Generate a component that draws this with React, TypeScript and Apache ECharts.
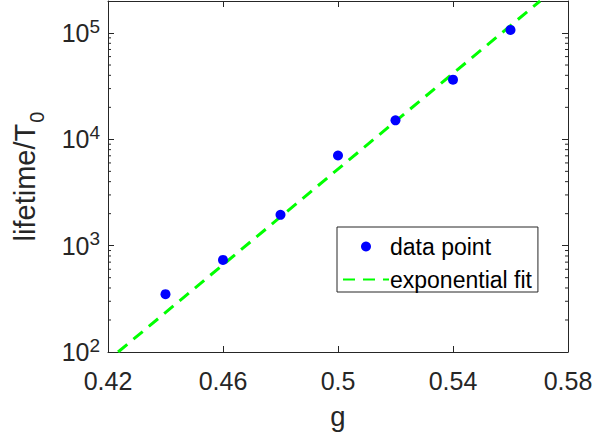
import React, { useEffect, useRef } from "react";
import * as echarts from "echarts";

const gValues = [0.44, 0.46, 0.48, 0.5, 0.52, 0.54, 0.56];
const lifetimeValues = [350, 735, 1950, 7050, 15100, 36400, 107000];
const fitG = [0.4235, 0.5703];
const fitLifetime = [100, 200000];
const xTicks = [0.42, 0.46, 0.5, 0.54, 0.58];
const yMin = 100;
const yMax = 200000;
const minorMultipliers = [2, 3, 4, 5, 6, 7, 8, 9];
const decades = [100, 1000, 10000, 100000];

const AXIS_COLOR = "#262626";

export default function App() {
  const ref = useRef<HTMLDivElement>(null);
  useEffect(() => {
    if (!ref.current) return;
    const chart = echarts.init(ref.current, null, { renderer: "svg" });
    const minorValues: number[] = [];
    decades.forEach((d) =>
      minorMultipliers.forEach((m) => {
        const v = d * m;
        if (v < yMax) minorValues.push(v);
      })
    );
    const xMin = xTicks[0];
    const xMax = xTicks[xTicks.length - 1];
    const font = "Liberation Sans, Arial, Helvetica, sans-serif";

    const isDecade = (v: number) => {
      const e = Math.log10(v);
      return Math.abs(e - Math.round(e)) < 1e-6;
    };

    const xAxisCommon = {
      type: "value",
      min: xMin,
      max: xMax,
      interval: 0.04,
      axisLine: { show: true, onZero: false, lineStyle: { color: AXIS_COLOR, width: 1 } },
      axisTick: { show: true, inside: true, length: 6, lineStyle: { color: AXIS_COLOR } },
      splitLine: { show: false },
    };
    const yAxisCommon = {
      type: "log",
      logBase: 10,
      min: yMin,
      max: yMax,
      axisLine: { show: true, onZero: false, lineStyle: { color: AXIS_COLOR, width: 1 } },
      axisTick: { show: true, inside: true, length: 6, lineStyle: { color: AXIS_COLOR } },
      splitLine: { show: false },
    };

    chart.setOption({
      animation: false,
      textStyle: { fontFamily: font },
      grid: { left: 108, right: 27, top: 1, bottom: 88, containLabel: false, outerBoundsMode: "none" },
      xAxis: [
        {
          ...xAxisCommon,
          position: "bottom",
          name: "g",
          nameLocation: "middle",
          nameGap: 50,
          nameTextStyle: { fontSize: 27.5, color: AXIS_COLOR, fontFamily: font },
          axisLabel: {
            show: true,
            fontSize: 25,
            color: AXIS_COLOR,
            margin: 16,
            fontFamily: font,
            formatter: (v: number) => String(parseFloat(v.toFixed(2))),
          },
        },
        {
          ...xAxisCommon,
          position: "top",
          axisLabel: { show: false },
        },
      ],
      yAxis: [
        {
          ...yAxisCommon,
          position: "left",
          name: "{a|lifetime/T}{s|0}",
          nameLocation: "middle",
          nameRotate: 90,
          nameGap: 61,
          nameTextStyle: {
            fontFamily: font,
            color: AXIS_COLOR,
            rich: {
              a: { fontSize: 29, color: AXIS_COLOR, fontFamily: font, lineHeight: 29, verticalAlign: "bottom", padding: [0, 0, 8, 0] },
              s: { fontSize: 20, color: AXIS_COLOR, fontFamily: font, lineHeight: 20, verticalAlign: "bottom", padding: [0, 0, 0, 1] },
            },
          },
          axisLabel: {
            show: true,
            margin: 8,
            fontFamily: font,
            formatter: (v: number) => (isDecade(v) ? "{b|10}{s|" + Math.round(Math.log10(v)) + "}" : ""),
            rich: {
              b: { fontSize: 25, color: AXIS_COLOR, fontFamily: font, lineHeight: 25, verticalAlign: "bottom", padding: [19, 0, 0, 0] },
              s: { fontSize: 19, color: AXIS_COLOR, fontFamily: font, lineHeight: 19, verticalAlign: "bottom", padding: [0, 0, 10, 0] },
            },
          },
        },
        {
          ...yAxisCommon,
          position: "right",
          axisLabel: { show: false },
        },
      ],
      legend: {
        orient: "vertical",
        left: 337,
        top: 227,
        padding: [8, 6, 1, 5],
        itemWidth: 46,
        itemHeight: 10,
        itemGap: 10,
        backgroundColor: "#ffffff",
        borderColor: AXIS_COLOR,
        borderWidth: 1,
        borderRadius: 0,
        textStyle: { fontSize: 23, color: "#000000", fontFamily: font, lineHeight: 23, padding: [0, 0, 0, -4] },
        data: [
          { name: "data point", icon: "circle" },
          { name: "exponential fit", itemStyle: { opacity: 0 } },
        ],
      },
      series: [
        {
          name: "minor ticks",
          type: "custom",
          xAxisIndex: 0,
          yAxisIndex: 0,
          silent: true,
          clip: false,
          data: minorValues.map((v) => [xMin, v]),
          renderItem: (params: any, api: any) => {
            const v = api.value(1);
            const pl = api.coord([xMin, v]);
            const pr = api.coord([xMax, v]);
            const style = { stroke: AXIS_COLOR, lineWidth: 1 };
            return {
              type: "group",
              children: [
                { type: "line", shape: { x1: pl[0], y1: pl[1], x2: pl[0] + 3, y2: pl[1] }, style },
                { type: "line", shape: { x1: pr[0] - 3, y1: pr[1], x2: pr[0], y2: pr[1] }, style },
              ],
            };
          },
        },
        {
          name: "exponential fit",
          type: "line",
          data: fitG.map((g, i) => [g, fitLifetime[i]]),
          showSymbol: false,
          symbol: "none",
          clip: true,
          lineStyle: { color: "#00ff00", width: 3, type: [12, 8], cap: "butt" },
          itemStyle: { color: "#00ff00" },
          z: 3,
        },
        {
          name: "data point",
          type: "scatter",
          data: gValues.map((g, i) => [g, lifetimeValues[i]]),
          symbol: "circle",
          symbolSize: 10,
          itemStyle: { color: "#0000ff", opacity: 1 },
          z: 4,
        },
      ],
    });
    return () => chart.dispose();
  }, []);
  return (
    <div
      ref={ref}
      style={{ position: "fixed", left: 0, top: 0, width: 595, height: 440, background: "#ffffff" }}
    />
  );
}
